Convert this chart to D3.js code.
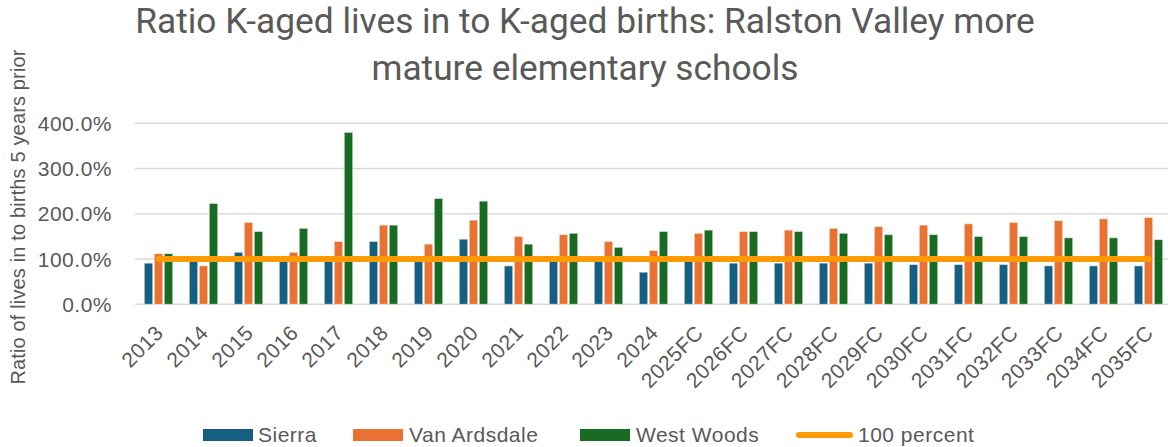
<!DOCTYPE html>
<html>
<head>
<meta charset="utf-8">
<script src="https://cdn.jsdelivr.net/npm/d3@7"></script>
<style>
  html, body { margin: 0; padding: 0; background: #fff; }
  svg { display: block; }
</style>
</head>
<body>
<svg id="chart" width="1168" height="447"></svg>
<script>
// ---- data ----
const categories = ["2013","2014","2015","2016","2017","2018","2019","2020","2021","2022","2023","2024",
  "2025FC","2026FC","2027FC","2028FC","2029FC","2030FC","2031FC","2032FC","2033FC","2034FC","2035FC"];
const seriesNames = ["Sierra", "Van Ardsdale", "West Woods"];
const sierra      = [91, 98, 115, 97, 97, 139, 98, 144, 85, 96, 97, 71, 96, 91, 91, 91, 91, 88, 88, 88, 85, 85, 85];
const vanArdsdale = [112, 85, 181, 115, 139, 175, 133, 186, 150, 154, 139, 119, 157, 161, 164, 168, 172, 175, 178, 181, 185, 189, 192];
const westWoods   = [112, 223, 161, 168, 380, 175, 234, 228, 133, 157, 126, 161, 164, 161, 161, 157, 154, 154, 150, 150, 147, 147, 143];
const hundredPercent = categories.map(() => 100);
const lineName = "100 percent";
const yTicks = [0, 100, 200, 300, 400];
const yTickLabels = ["0.0%", "100.0%", "200.0%", "300.0%", "400.0%"];
const titleLines = ["Ratio K-aged lives in to K-aged births: Ralston Valley more", "mature elementary schools"];
const yAxisTitle = "Ratio of lives in to births 5 years prior";

// ---- styles ----
const colors = { "Sierra": "#156082", "Van Ardsdale": "#E97132", "West Woods": "#196B24" };
const lineColor = "#FF9A00";
const textColor = "#595959";
const gridColor = "#D9D9D9";

const svg = d3.select("#chart");
const seriesData = [sierra, vanArdsdale, westWoods];

const x0 = d3.scaleBand().domain(categories).range([136, 1171]).paddingInner(0.367).paddingOuter(0.1835);
const x1 = d3.scaleBand().domain(seriesNames).range([0, x0.bandwidth()]).paddingInner(0.15);
const y = d3.scaleLinear().domain([0, 400]).range([304.3, 123.3]);

// gridlines
svg.append("g").selectAll("line").data(yTicks).join("line")
  .attr("x1", 135).attr("x2", 1168)
  .attr("y1", d => y(d)).attr("y2", d => y(d))
  .attr("stroke", gridColor).attr("stroke-width", 1.5);

// y tick labels
svg.append("g").selectAll("text").data(yTicks).join("text")
  .attr("x", 112).attr("y", d => y(d)).attr("dy", "0.36em")
  .attr("text-anchor", "end")
  .attr("font-family", "'Liberation Sans', Arial, sans-serif")
  .attr("font-size", 21).attr("letter-spacing", 0.5)
  .attr("fill", textColor)
  .text((d, i) => yTickLabels[i]);

// bars
const groups = svg.append("g").selectAll("g").data(categories).join("g")
  .attr("transform", d => `translate(${x0(d)},0)`);
groups.selectAll("rect")
  .data((c, i) => seriesNames.map((s, k) => ({ s, v: seriesData[k][i] })))
  .join("rect")
  .attr("x", d => x1(d.s))
  .attr("width", x1.bandwidth())
  .attr("y", d => y(d.v))
  .attr("height", d => y(0) - y(d.v))
  .attr("fill", d => colors[d.s])
  .attr("stroke", "#ffffff").attr("stroke-opacity", 0.55).attr("stroke-width", 1);

// 100 percent line
const line = d3.line().x((d, i) => x0(categories[i]) + x0.bandwidth() / 2).y(d => y(d));
svg.append("path").datum(hundredPercent)
  .attr("d", line)
  .attr("fill", "none").attr("stroke", lineColor)
  .attr("stroke-width", 6).attr("stroke-linecap", "round");

// x labels
svg.append("g").selectAll("text").data(categories).join("text")
  .attr("transform", d => `translate(${x0(d) + x0.bandwidth() / 2 + 1},329) rotate(-45)`)
  .attr("dy", "0.35em")
  .attr("text-anchor", "end")
  .attr("font-family", "'Liberation Sans', Arial, sans-serif")
  .attr("font-size", 21).attr("letter-spacing", 0.5)
  .attr("fill", textColor)
  .text(d => d);

// y axis title
const yt = svg.append("text")
  .attr("transform", "translate(25,217) rotate(-90)")
  .attr("text-anchor", "middle")
  .attr("font-family", "'Liberation Sans', Arial, sans-serif")
  .attr("font-size", 20).attr("letter-spacing", 0.15)
  .attr("fill", textColor)
  .text(yAxisTitle);

// title
const title = svg.append("g");
const t1 = title.append("text")
  .attr("x", 585).attr("y", 33).attr("text-anchor", "middle")
  .attr("font-family", "Roboto, 'Noto Sans', sans-serif")
  .attr("font-size", 30).attr("fill", textColor)
  .text(titleLines[0]);
const w = t1.node().getComputedTextLength();
const fs = 30 * 900 / w;
t1.attr("font-size", fs);
title.append("text")
  .attr("x", 585).attr("y", 80).attr("text-anchor", "middle")
  .attr("font-family", "Roboto, 'Noto Sans', sans-serif")
  .attr("font-size", fs).attr("fill", textColor)
  .text(titleLines[1]);

// legend
const legendItems = [
  { name: seriesNames[0], type: "rect", x: 203, tx: 258 },
  { name: seriesNames[1], type: "rect", x: 353, tx: 409 },
  { name: seriesNames[2], type: "rect", x: 580, tx: 636 },
  { name: lineName, type: "line", x: 799, tx: 858 }
];
const lg = svg.append("g");
legendItems.forEach(it => {
  if (it.type === "rect") {
    lg.append("rect").attr("x", it.x).attr("y", 429).attr("width", 50).attr("height", 12)
      .attr("fill", colors[it.name]);
  } else {
    lg.append("line").attr("x1", it.x).attr("x2", it.x + 51).attr("y1", 435).attr("y2", 435)
      .attr("stroke", lineColor).attr("stroke-width", 6).attr("stroke-linecap", "round");
  }
  lg.append("text").attr("x", it.tx).attr("y", 442)
    .attr("font-family", "'Liberation Sans', Arial, sans-serif")
    .attr("font-size", 21).attr("letter-spacing", 0.5)
    .attr("fill", textColor).text(it.name);
});
</script>
</body>
</html>
